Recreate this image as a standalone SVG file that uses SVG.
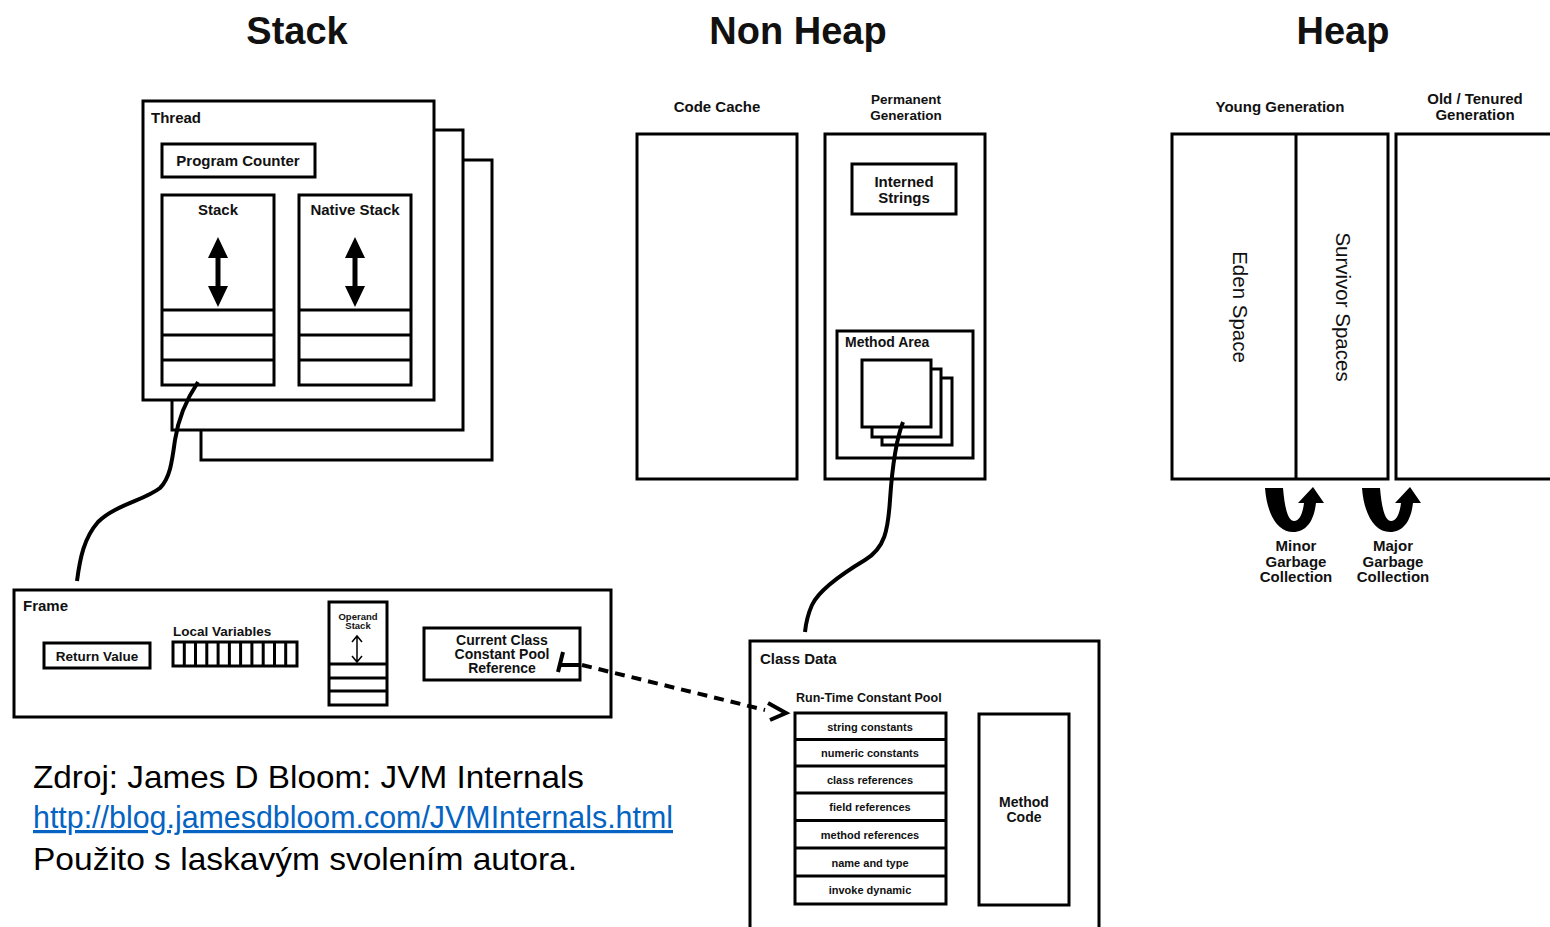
<svg xmlns="http://www.w3.org/2000/svg" width="1550" height="927" viewBox="0 0 1550 927">
<style>
.b{fill:#fff;stroke:#000;stroke-width:3}
.n{fill:none;stroke:#000;stroke-width:3}
.t{font-family:"Liberation Sans",Arial,sans-serif;font-weight:bold;fill:#111}
.h{font-size:38px;text-anchor:middle}
.m{font-size:15px}
.c{text-anchor:middle}
.r{font-family:"Liberation Sans",Arial,sans-serif;font-size:20.5px;fill:#111}
.f{font-family:"Liberation Sans",Arial,sans-serif;font-size:32px;fill:#000}
</style>
<defs>
<g id="dbl">
<path d="M0,-35 L-10,-14 L10,-14 Z M0,35 L-10,14 L10,14 Z" fill="#000"/>
<line x1="0" y1="-16" x2="0" y2="16" stroke="#000" stroke-width="5"/>
</g>
<path id="gc" d="M1265,488 L1283,488 C1285,512 1289,521 1294,521 C1300,521 1303,512 1304,503 L1298,503 L1313,487 L1324,503 L1316,503 C1314,520 1307,532 1293,532 C1278,532 1267,515 1265,488 Z" fill="#000"/>
</defs>

<g id="titles">
<text class="t h" x="297" y="44">Stack</text>
<text class="t h" x="798" y="44">Non Heap</text>
<text class="t h" x="1343" y="44">Heap</text>
</g>

<g id="thread">
<rect class="b" x="201" y="160" width="291" height="300"/>
<rect class="b" x="172" y="130" width="291" height="300"/>
<rect class="b" x="143" y="101" width="291" height="299"/>
<text class="t m" x="151" y="123">Thread</text>
<g id="program-counter">
<rect class="b" x="162" y="144" width="153" height="33"/>
<text class="t m c" x="238" y="166">Program Counter</text>
</g>
<g id="stack">
<rect class="b" x="162" y="195" width="112" height="190"/>
<text class="t m c" x="218" y="215">Stack</text>
<use href="#dbl" x="218" y="272"/>
<line class="n" x1="162" y1="310" x2="274" y2="310"/>
<line class="n" x1="162" y1="335" x2="274" y2="335"/>
<line class="n" x1="162" y1="360" x2="274" y2="360"/>
</g>
<g id="native-stack">
<rect class="b" x="299" y="195" width="112" height="190"/>
<text class="t m c" x="355" y="215">Native Stack</text>
<use href="#dbl" x="355" y="272"/>
<line class="n" x1="299" y1="310" x2="411" y2="310"/>
<line class="n" x1="299" y1="335" x2="411" y2="335"/>
<line class="n" x1="299" y1="360" x2="411" y2="360"/>
</g>
</g>

<g id="frame">
<rect class="b" x="14" y="590" width="597" height="127"/>
<text class="t m" x="23" y="611">Frame</text>
<rect class="b" x="44" y="643" width="106" height="25"/>
<text class="t c" font-size="13.5" x="97" y="661">Return Value</text>
<text class="t" font-size="13.5" x="173" y="636">Local Variables</text>
<rect class="b" x="173" y="642" width="124" height="24"/>
<path class="n" stroke-width="2.5" d="M184.3,642V666M195.5,642V666M206.8,642V666M218.1,642V666M229.4,642V666M240.6,642V666M251.9,642V666M263.2,642V666M274.5,642V666M285.7,642V666"/>
<g id="operand-stack">
<rect class="b" x="329" y="602" width="58" height="103"/>
<text class="t" font-size="9.5" text-anchor="middle" x="358" y="620">Operand</text>
<text class="t" font-size="9.5" text-anchor="middle" x="358" y="629">Stack</text>
<path d="M357,636V662M352,642L357,636L362,642M352,656L357,662L362,656" fill="none" stroke="#000" stroke-width="1.5"/>
<line class="n" x1="329" y1="664" x2="387" y2="664"/>
<line class="n" x1="329" y1="678" x2="387" y2="678"/>
<line class="n" x1="329" y1="691" x2="387" y2="691"/>
</g>
<g id="ccp-ref">
<rect class="b" x="424" y="628" width="156" height="52"/>
<text class="t c" font-size="14" x="502" y="645">Current Class</text>
<text class="t c" font-size="14" x="502" y="659">Constant Pool</text>
<text class="t c" font-size="14" x="502" y="673">Reference</text>
</g>
</g>

<g id="code-cache">
<text class="t m c" x="717" y="112">Code Cache</text>
<rect class="b" x="637" y="134" width="160" height="345"/>
</g>

<g id="perm-gen">
<text class="t c" font-size="13.5" x="906" y="104">Permanent</text>
<text class="t c" font-size="13.5" x="906" y="120">Generation</text>
<rect class="b" x="825" y="134" width="160" height="345"/>
<g id="interned">
<rect class="b" x="852" y="164" width="104" height="50"/>
<text class="t m c" x="904" y="187">Interned</text>
<text class="t m c" x="904" y="203">Strings</text>
</g>
<g id="method-area">
<rect class="b" x="837" y="331" width="136" height="127"/>
<text class="t" font-size="14" x="845" y="347">Method Area</text>
<rect class="b" x="882" y="378" width="70" height="67"/>
<rect class="b" x="872" y="369" width="69" height="68"/>
<rect class="b" x="862" y="360" width="69" height="67"/>
</g>
</g>

<g id="young-gen">
<text class="t m c" x="1280" y="112">Young Generation</text>
<rect class="b" x="1172" y="134" width="216" height="345"/>
<line class="n" x1="1296" y1="134" x2="1296" y2="479"/>
<text class="r" text-anchor="middle" transform="translate(1233,307) rotate(90)">Eden Space</text>
<text class="r" text-anchor="middle" transform="translate(1336,307) rotate(90)">Survivor Spaces</text>
</g>

<g id="old-gen">
<text class="t m c" x="1475" y="104">Old / Tenured</text>
<text class="t m c" x="1475" y="120">Generation</text>
<rect class="b" x="1396" y="134" width="160" height="345"/>
</g>

<g id="minor-gc">
<use href="#gc"/>
<text class="t m c" x="1296" y="551">Minor</text>
<text class="t m c" x="1296" y="567">Garbage</text>
<text class="t m c" x="1296" y="582">Collection</text>
</g>
<g id="major-gc">
<use href="#gc" x="97"/>
<text class="t m c" x="1393" y="551">Major</text>
<text class="t m c" x="1393" y="567">Garbage</text>
<text class="t m c" x="1393" y="582">Collection</text>
</g>

<g id="class-data">
<rect class="b" x="750" y="641" width="349" height="300"/>
<text class="t m" x="760" y="664">Class Data</text>
<text class="t" font-size="12.5" x="796" y="702">Run-Time Constant Pool</text>
<g id="rtcp">
<rect class="b" x="795" y="713" width="151" height="191"/>
<path class="n" d="M795,739.5H946M795,766H946M795,793H946M795,820.5H946M795,848H946M795,876H946"/>
<text class="t" font-size="11" text-anchor="middle" x="870" y="731">string constants</text>
<text class="t" font-size="11" text-anchor="middle" x="870" y="757">numeric constants</text>
<text class="t" font-size="11" text-anchor="middle" x="870" y="784">class references</text>
<text class="t" font-size="11" text-anchor="middle" x="870" y="811">field references</text>
<text class="t" font-size="11" text-anchor="middle" x="870" y="839">method references</text>
<text class="t" font-size="11" text-anchor="middle" x="870" y="867">name and type</text>
<text class="t" font-size="11" text-anchor="middle" x="870" y="894">invoke dynamic</text>
</g>
<g id="method-code">
<rect class="b" x="979" y="714" width="90" height="191"/>
<text class="t" font-size="14" text-anchor="middle" x="1024" y="807">Method</text>
<text class="t" font-size="14" text-anchor="middle" x="1024" y="822">Code</text>
</g>
</g>

<g id="connectors" fill="none" stroke="#000">
<path stroke-width="4" d="M198,382 C186,400 178,420 175,440 C172,462 170,478 160,488 C145,500 115,505 98,522 C84,538 80,558 77,581"/>
<path stroke-width="4" d="M903,422 C896,440 892,470 890,500 C888,530 885,548 865,560 C840,575 818,592 812,605 C808,614 806,622 805,632"/>
<path stroke-width="4" d="M563,652 L558,672 M561,665 H580"/>
<path stroke-width="4" stroke-dasharray="10,7" d="M582,665 L765,710"/>
<path stroke-width="4" d="M768,703 L786,713 L770,720"/>
</g>

<g id="source">
<text class="f" x="33" y="788" textLength="551" lengthAdjust="spacingAndGlyphs">Zdroj: James D Bloom: JVM Internals</text>
<text class="f" x="33" y="828" style="fill:#0563C1" text-decoration="underline" textLength="640" lengthAdjust="spacingAndGlyphs">http://blog.jamesdbloom.com/JVMInternals.html</text>
<text class="f" x="33" y="870" textLength="544" lengthAdjust="spacingAndGlyphs">Použito s laskavým svolením autora.</text>
</g>
</svg>
